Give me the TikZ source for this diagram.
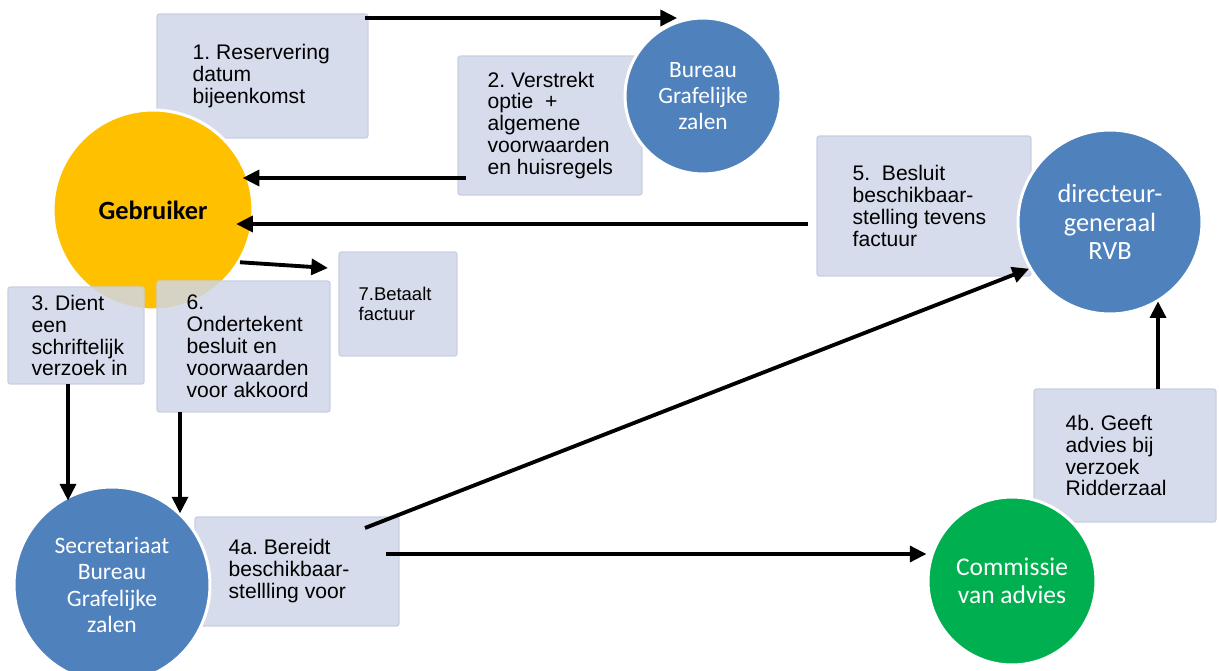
\documentclass[tikz,border=0pt]{standalone}
\usepackage{fontspec}
\setmainfont{Liberation Sans}
\newfontfamily\calibri{Carlito}
\usetikzlibrary{positioning,arrows.meta}
\frenchspacing
\definecolor{vakvul}{RGB}{207,214,231}
\definecolor{vakrand}{RGB}{200,208,226}
\definecolor{geel}{HTML}{FFC000}
\definecolor{blauw}{HTML}{4F81BD}
\definecolor{groen}{HTML}{00B050}
\tikzset{
  vak/.style={draw=vakrand, fill=vakvul, fill opacity=.85, rounded corners=1.5pt, line width=.8pt, inner sep=0pt},
  tekst/.style={inner sep=0pt, align=left, font=\fontsize{12}{12.5}\selectfont},
  bol/.style={circle, draw=white, line width=1.7pt, inner sep=0pt, text=white, align=center},
  pijl/.style={-{Triangle[length=9.5pt,width=9pt]}, line width=2.2pt}
}
\begin{document}
\begin{tikzpicture}[x=0.02cm, y=-0.02cm]
        \useasboundingbox (0,0) rectangle (1219,671);
        \clip (0,0) rectangle (1219,671);
        % vakken onder de cirkels
        \node[vak, minimum width=4.22cm, minimum height=2.48cm] (b1) at (262.5,76) {};
        \node[vak, minimum width=3.68cm, minimum height=2.78cm] (b2) at (550,125.5) {};
        \node[vak, minimum width=4.28cm, minimum height=2.8cm] (b5) at (924,206) {};
        \node[vak, minimum width=4.08cm, minimum height=2.18cm] (b4a) at (297,571.5) {};
        \node[vak, minimum width=3.64cm, minimum height=2.66cm] (b4b) at (1125,455.5) {};
        % cirkels
        \node[bol, fill=geel, minimum size=4cm, text=black, font=\calibri\bfseries\fontsize{15}{16}\selectfont] (gebr) at (153,210) {Gebruiker};
        \node[bol, fill=blauw, minimum size=3.12cm, font=\calibri\fontsize{13.3}{15}\selectfont] (bureau) at (703,96) {Bureau\\Grafelijke\\zalen};
        \node[bol, fill=blauw, minimum size=3.68cm, font=\calibri\fontsize{15}{16.4}\selectfont] (dir) at (1110,222) {directeur-\\generaal\\RVB};
        \node[bol, fill=blauw, minimum size=3.92cm, font=\calibri\fontsize{13.4}{14.9}\selectfont] (secr) at (112,585) {Secretariaat\\Bureau\\Grafelijke\\zalen};
        \node[bol, fill=groen, minimum size=3.36cm, font=\calibri\fontsize{14.5}{15.9}\selectfont] (comm) at (1012,581) {Commissie\\van advies};
        % vakken boven de cirkels
        \node[vak, minimum width=2.72cm, minimum height=1.94cm] (b3) at (76,335.5) {};
        \node[vak, minimum width=3.46cm, minimum height=2.62cm] (b6) at (243.5,346.5) {};
        \node[vak, minimum width=2.36cm, minimum height=2.08cm] (b7) at (398,304) {};
        % teksten
        \node[tekst, right=0.72cm of b1.west] (t1) {1. Reservering\\datum\\bijeenkomst};
        \node[tekst, right=0.6cm of b2.west] (t2) {2. Verstrekt\\optie\ \ +\\algemene\\voorwaarden\\en huisregels};
        \node[tekst, right=0.72cm of b5.west] (t5) {5.\ \ Besluit\\beschikbaar-\\stelling tevens\\factuur};
        \node[tekst, right=0.48cm of b3.west] (t3) {3. Dient\\een\\schriftelijk\\verzoek in};
        \node[tekst, right=0.6cm of b6.west] (t6) {6.\\Ondertekent\\besluit en\\voorwaarden\\voor akkoord};
        \node[tekst, right=0.4cm of b7.west, font=\fontsize{10.5}{11.3}\selectfont] (t7) {7.Betaalt\\factuur};
        \node[tekst, right=0.68cm of b4a.west] (t4a) {4a. Bereidt\\beschikbaar-\\stellling voor};
        \node[tekst, right=0.64cm of b4b.west] (t4b) {4b. Geeft\\advies bij\\verzoek\\Ridderzaal};
        % beginpunten van de pijlen
        \coordinate (s1) at (365,18);
        \coordinate (s2) at (466,178);
        \coordinate (s5) at (808,224);
        \coordinate (s3) at (68,384);
        \coordinate (s6) at (180,412);
        \coordinate (s4o) at (365,528);
        \coordinate (s4r) at (386,554);
        \coordinate (s4b) at (1158,389);
        \coordinate (e7) at (328,268);
        % pijlen
        \draw[pijl] (s1) -- (s1 -| bureau.109);
        \draw[pijl] (s2) -- (s2 -| gebr.28);
        \draw[pijl] (s5) -- (s5 -| gebr.35);
        \draw[pijl] (gebr.-31) -- (e7);
        \draw[pijl] (s3) -- (s3 |- secr.122);
        \draw[pijl] (s6) -- (s6 |- secr.46);
        \draw[pijl] (s4o) -- (dir.210);
        \draw[pijl] (s4r) -- (s4r -| comm.west);
        \draw[pijl] (s4b) -- (s4b |- dir.-58);
\end{tikzpicture}
\end{document}
